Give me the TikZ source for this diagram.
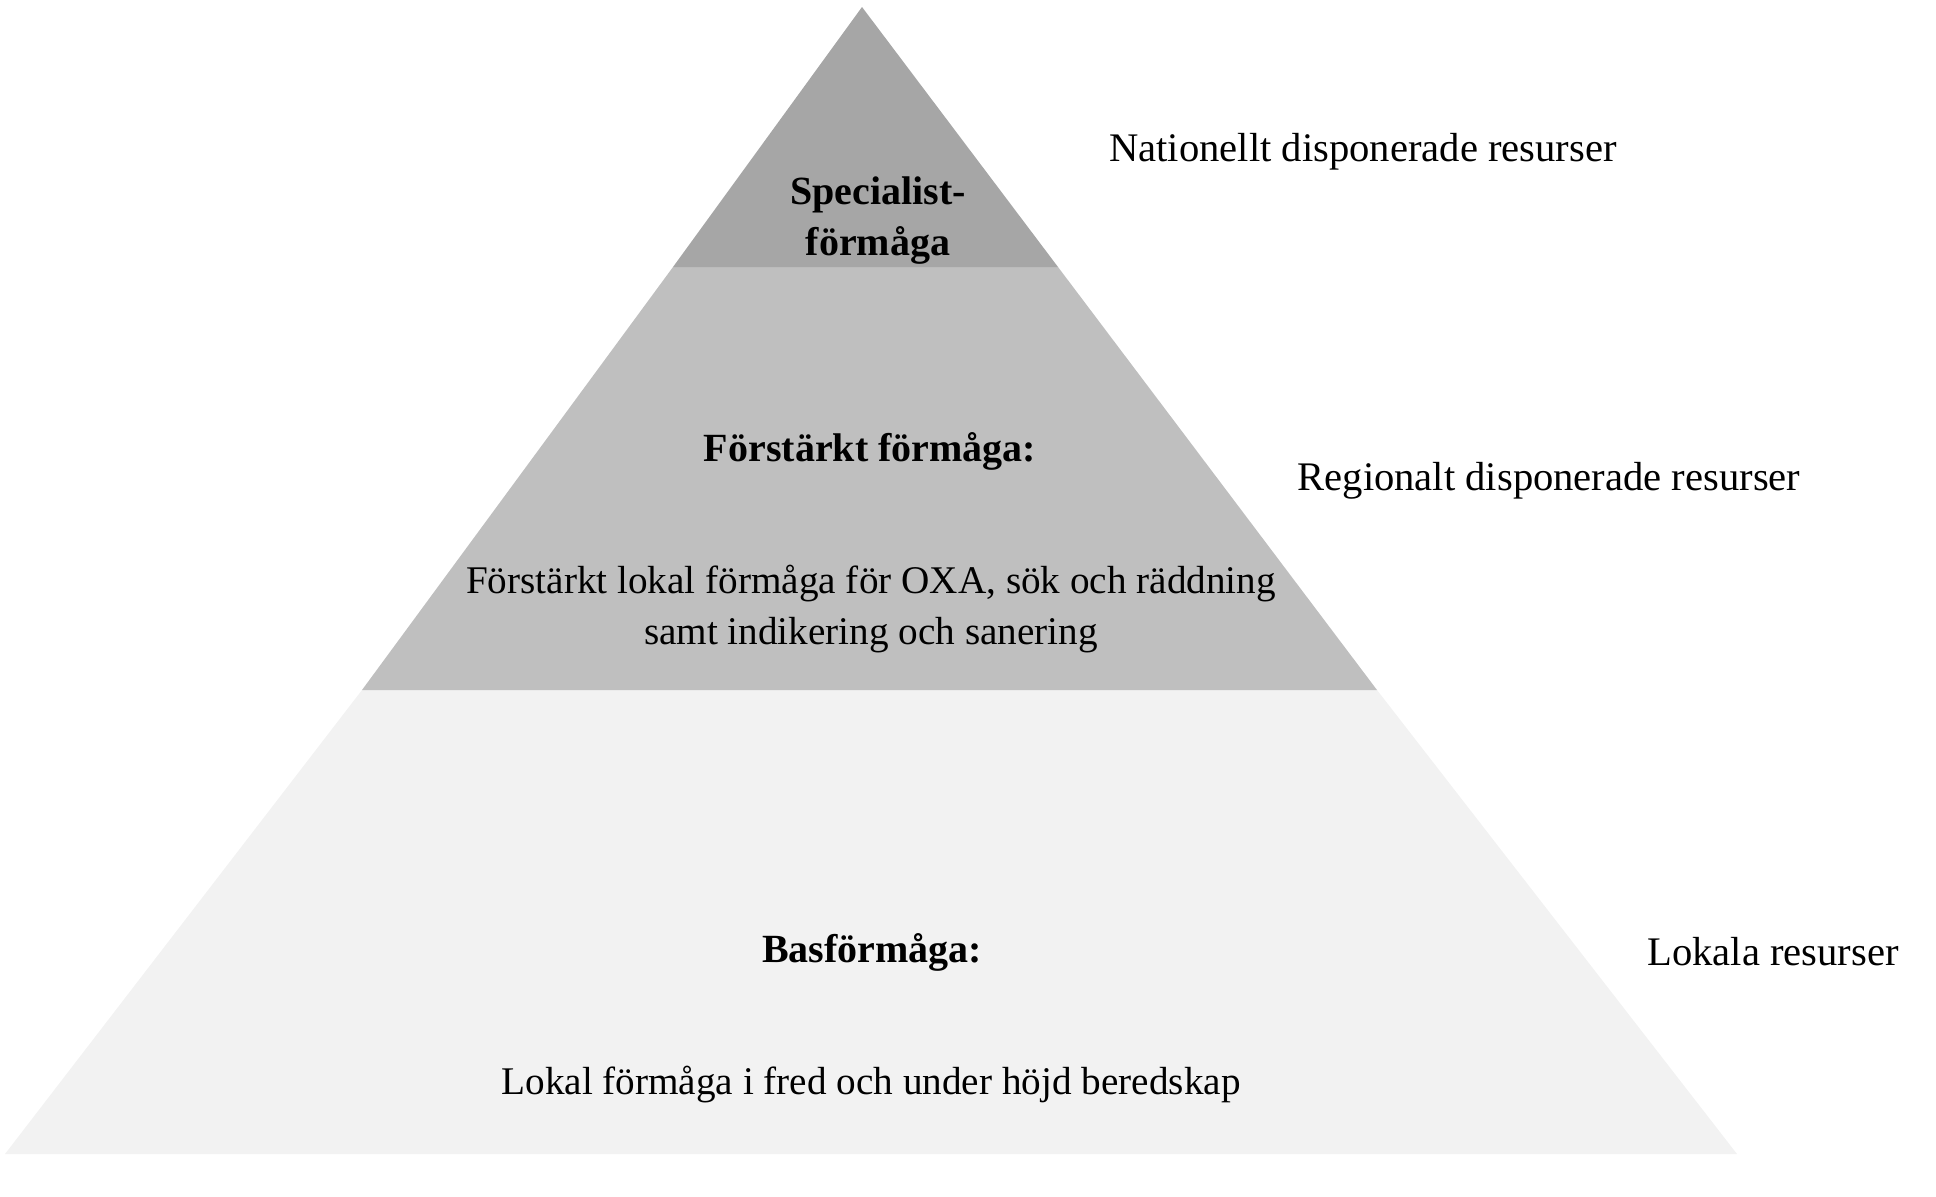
\documentclass[tikz,border=0pt]{standalone}
\usepackage{fontspec}
\setmainfont{Liberation Serif}
\definecolor{topgray}{HTML}{A6A6A6}
\definecolor{midgray}{HTML}{BFBFBF}
\definecolor{basegray}{HTML}{F2F2F2}
\begin{document}
\begin{tikzpicture}[x=0.5pt,y=-0.5pt,
  txt/.style={font=\fontsize{19.6}{25.5}\selectfont, inner sep=0pt, align=center, text=black},
  side/.style={txt, font=\fontsize{20.3}{25.5}\selectfont},
  hdr/.style={txt, font=\fontsize{20}{25.5}\selectfont\bfseries}]
\useasboundingbox (0,0) rectangle (1936,1196);
% pyramid bands
\coordinate (apex) at (862,7);
\coordinate (t1l) at (673,267);
\coordinate (t1r) at (1058,267);
\coordinate (t2l) at (362,690);
\coordinate (t2r) at (1377,690);
\coordinate (bl) at (5,1154);
\coordinate (br) at (1737,1154);
\fill[basegray] (t2l) -- (t2r) -- (br) -- (bl) -- cycle;
\fill[midgray] (t1l) -- (t1r) -- (t2r) -- (t2l) -- cycle;
\fill[topgray] (apex) -- (t1r) -- (t1l) -- cycle;
% texts inside
\node[hdr] (spec) at (878,221) {Specialist-\\förmåga};
\node[hdr] (forst) at (870,451) {Förstärkt förmåga:};
\node[txt] (forstd) at (871,609) {Förstärkt lokal förmåga för OXA, sök och räddning\\samt indikering och sanering};
\node[hdr] (bas) at (872,952) {Basförmåga:};
\node[txt] (basd) at (871,1085) {Lokal förmåga i fred och under höjd beredskap};
% side labels
\node[side] (nat) at (1363,152) {Nationellt disponerade resurser};
\node[side] (reg) at (1549,481) {Regionalt disponerade resurser};
\node[side] (lok) at (1773,952) {Lokala resurser};
\end{tikzpicture}
\end{document}
